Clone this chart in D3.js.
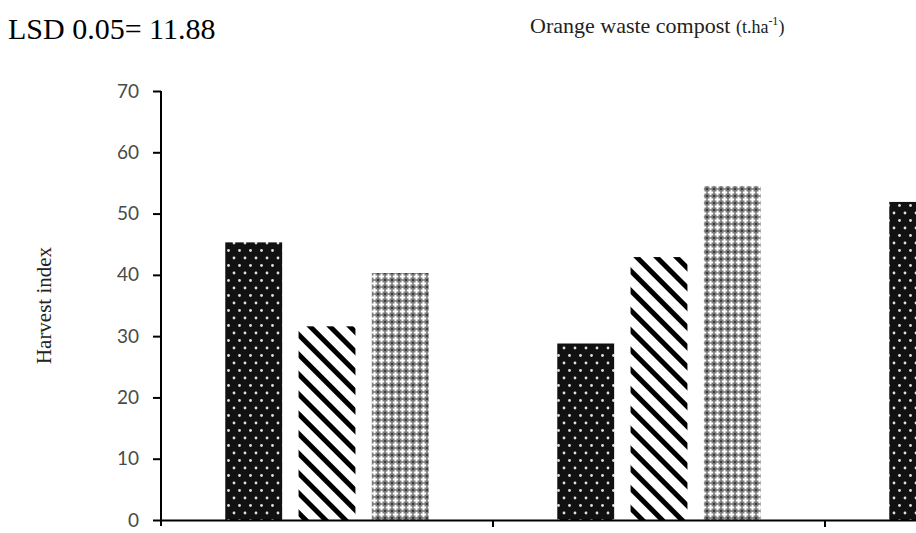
<!DOCTYPE html>
<html>
<head>
<meta charset="utf-8">
<script src="https://cdn.jsdelivr.net/npm/d3@7"></script>
<style>
  html, body { margin: 0; padding: 0; background: #fff; }
  svg { display: block; }
</style>
</head>
<body>
<svg id="chart" width="916" height="533"></svg>
<script>
// ---- data ----
const categories = ["G1", "G2", "G3"];
const seriesNames = ["S1", "S2", "S3"];
const series1 = [45.3, 28.8, 51.9];
const series2 = [31.6, 42.9, null];
const series3 = [40.3, 54.5, null];
const yTicks = [0, 10, 20, 30, 40, 50, 60, 70];
const titleLeft = "LSD 0.05= 11.88";
const yTitle = "Harvest index";

const seriesValues = [series1, series2, series3];

const svg = d3.select("#chart");
const defs = svg.append("defs");

// dotted pattern (black with white dots)
const pDots = defs.append("pattern").attr("id", "pDots")
  .attr("patternUnits", "userSpaceOnUse").attr("width", 11).attr("height", 15);
pDots.append("rect").attr("width", 11).attr("height", 15).attr("fill", "#111");
pDots.append("circle").attr("cx", 3).attr("cy", 3).attr("r", 1.4).attr("fill", "#e0e0e0");
pDots.append("circle").attr("cx", 8.5).attr("cy", 10.5).attr("r", 1.4).attr("fill", "#e0e0e0");

// diagonal stripes "\"
const pStripe = defs.append("pattern").attr("id", "pStripe")
  .attr("patternUnits", "userSpaceOnUse").attr("width", 14).attr("height", 14)
  .attr("patternTransform", "rotate(-45)");
pStripe.append("rect").attr("width", 14).attr("height", 14).attr("fill", "#fff");
pStripe.append("rect").attr("x", 0).attr("width", 5).attr("height", 14).attr("fill", "#000");

// gray diamond / cross pattern
const T = 7;
const pDiam = defs.append("pattern").attr("id", "pDiam")
  .attr("patternUnits", "userSpaceOnUse").attr("width", T).attr("height", T);
pDiam.append("rect").attr("width", T).attr("height", T).attr("fill", "#7a7a7a");
pDiam.append("rect").attr("x", T / 2 - 1).attr("y", 0.8).attr("width", 2).attr("height", T - 1.6).attr("fill", "#fff");
pDiam.append("rect").attr("x", 0.8).attr("y", T / 2 - 1).attr("width", T - 1.6).attr("height", 2).attr("fill", "#fff");
[[0, 0], [T, 0], [0, T], [T, T]].forEach(([cx, cy]) => {
  pDiam.append("rect").attr("x", cx - 1).attr("y", cy - 1).attr("width", 2).attr("height", 2).attr("fill", "#3a3a3a");
});

const fills = ["url(#pDots)", "url(#pStripe)", "url(#pDiam)"];

// ---- scales ----
const plotLeft = 161, catStep = 332, plotBottom = 520, plotTop = 91;
const x0 = d3.scaleBand().domain(categories)
  .range([plotLeft, plotLeft + catStep * categories.length]).padding(0);
const x1 = d3.scaleBand().domain(seriesNames)
  .range([0, x0.bandwidth()]).paddingInner(0.224).paddingOuter(0.877);
const y = d3.scaleLinear().domain([0, 70]).range([plotBottom, plotTop]);

// ---- bars ----
const barData = [];
categories.forEach((c, ci) => {
  seriesNames.forEach((s, si) => {
    const v = seriesValues[si][ci];
    if (v != null) barData.push({ c, s, si, v });
  });
});
svg.append("g").selectAll("rect").data(barData).join("rect")
  .attr("x", d => x0(d.c) + x1(d.s))
  .attr("y", d => y(d.v))
  .attr("width", x1.bandwidth())
  .attr("height", d => y(0) - y(d.v))
  .attr("fill", d => fills[d.si]);

// ---- y axis ----
const yAxis = d3.axisLeft(y).tickValues(yTicks).tickSize(8).tickPadding(14);
const gy = svg.append("g").attr("transform", `translate(${plotLeft},0)`).call(yAxis);
gy.select(".domain").attr("stroke", "#000").attr("stroke-width", 2)
  .attr("d", `M0,${plotTop}V${plotBottom + 6}`);
gy.selectAll(".tick line").attr("stroke", "#000").attr("stroke-width", 2);
gy.selectAll(".tick text").attr("fill", "#4a4a4a")
  .style("font-family", "Lato, 'Open Sans', sans-serif").style("font-size", "19px");

// ---- x axis ----
const xAxis = d3.axisBottom(x0).tickValues([]).tickSizeOuter(0);
const gx = svg.append("g").attr("transform", `translate(0,${plotBottom})`).call(xAxis);
gx.select(".domain").attr("stroke", "#000").attr("stroke-width", 2);
gx.selectAll(".cat-tick").data(categories.slice(1)).join("line")
  .attr("class", "cat-tick")
  .attr("x1", d => x0(d)).attr("x2", d => x0(d))
  .attr("y1", 0).attr("y2", 7)
  .attr("stroke", "#000").attr("stroke-width", 2);

// ---- titles ----
svg.append("text").attr("x", 8).attr("y", 39)
  .style("font-family", "'Liberation Serif', 'Times New Roman', serif")
  .style("font-size", "30px").attr("fill", "#000").text(titleLeft);

const t2 = svg.append("text").attr("x", 530).attr("y", 33)
  .style("font-family", "'Liberation Serif', 'Times New Roman', serif")
  .attr("fill", "#222");
t2.append("tspan").style("font-size", "22px").text("Orange waste compost ");
t2.append("tspan").style("font-size", "18px").text("(t.ha");
t2.append("tspan").style("font-size", "12px").attr("dy", -8).text("-1");
t2.append("tspan").style("font-size", "18px").attr("dy", 8).text(")");

svg.append("text")
  .attr("transform", `translate(51,${(plotTop + plotBottom) / 2}) rotate(-90)`)
  .attr("text-anchor", "middle")
  .style("font-family", "'Liberation Serif', 'Times New Roman', serif")
  .style("font-size", "21px").attr("fill", "#222").text(yTitle);
</script>
</body>
</html>
